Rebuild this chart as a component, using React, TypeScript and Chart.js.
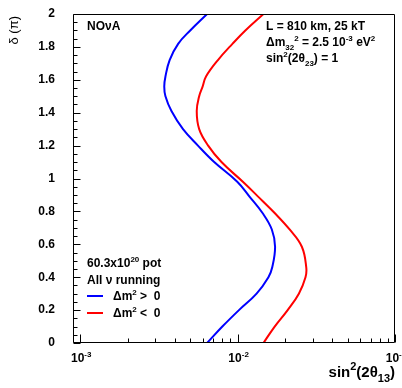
import React, { useEffect, useRef } from "react";
import { Chart, registerables } from "chart.js";

Chart.register(...registerables);

// ---- data ----
const deltaPi = [0, 0.1, 0.2, 0.3, 0.4, 0.46, 0.585, 0.69, 0.79, 0.89, 0.98, 1.1, 1.2, 1.3, 1.41, 1.5, 1.56, 1.62, 1.72, 1.82, 1.9, 2.0];
const sin2Normal = [0.0064, 0.0080, 0.0102, 0.0132, 0.0157, 0.0166, 0.0173, 0.0165, 0.0144, 0.0119, 0.00995, 0.0071, 0.0056, 0.0045, 0.0038, 0.00348, 0.00342, 0.00348, 0.0037, 0.0042, 0.005, 0.0064];
const sin2Inverted = [0.0146, 0.0172, 0.0208, 0.0245, 0.0270, 0.0273, 0.0256, 0.0214, 0.0172, 0.0135, 0.0108, 0.0079, 0.0065, 0.0057, 0.0055, 0.0057, 0.006, 0.0063, 0.0075, 0.0093, 0.0112, 0.0146];

const yTickValues = [0, 0.2, 0.4, 0.6, 0.8, 1, 1.2, 1.4, 1.6, 1.8, 2];
const yTickLabels = ["0", "0.2", "0.4", "0.6", "0.8", "1", "1.2", "1.4", "1.6", "1.8", "2"];
const xTickValues = [0.001, 0.01, 0.1];
const xTickExponents = ["-3", "-2", "-1"];

const X_MIN = 0.0009;
const X_MAX = 0.1;

const FONT = "'Liberation Sans', Arial, Helvetica, sans-serif";

type Seg = { t: string; k?: "sup" | "sub" };

function drawRich(
  ctx: CanvasRenderingContext2D,
  segs: Seg[],
  x: number,
  y: number,
  size: number,
  align: "left" | "center" | "right",
  weight = "bold"
) {
  const small = Math.round(size * 0.7);
  let total = 0;
  const widths: number[] = [];
  for (const s of segs) {
    ctx.font = `${weight} ${s.k ? small : size}px ${FONT}`;
    const w = ctx.measureText(s.t).width;
    widths.push(w);
    total += w;
  }
  let cx = align === "left" ? x : align === "center" ? x - total / 2 : x - total;
  ctx.textAlign = "left";
  ctx.textBaseline = "alphabetic";
  segs.forEach((s, i) => {
    ctx.font = `${weight} ${s.k ? small : size}px ${FONT}`;
    const dy = s.k === "sup" ? -size * 0.45 : s.k === "sub" ? size * 0.3 : 0;
    ctx.fillText(s.t, cx, y + dy);
    cx += widths[i];
  });
}

const rootFramePlugin = {
  id: "rootFrame",
  afterDraw(chart: any) {
    const ctx: CanvasRenderingContext2D = chart.ctx;
    const xs = chart.scales.x;
    const ys = chart.scales.y;
    const a = chart.chartArea;
    const L = Math.round(a.left) + 0.5;
    const R = Math.round(a.right) - 0.5;
    const T = Math.round(a.top) + 0.5;
    const B = Math.round(a.bottom) - 0.5;
    ctx.save();
    ctx.fillStyle = "#000";
    ctx.strokeStyle = "#000";
    ctx.lineWidth = 1;

    // frame
    ctx.beginPath();
    ctx.rect(L, T, R - L, B - T);
    ctx.stroke();

    // y ticks
    ctx.beginPath();
    for (let i = 0; i <= 40; i++) {
      const v = i * 0.05;
      const py = Math.round(ys.getPixelForValue(v)) + 0.5;
      const major = i % 4 === 0;
      ctx.moveTo(L, py);
      ctx.lineTo(L + (major ? 7 : 4), py);
    }
    // x ticks
    for (let d = -4; d <= -1; d++) {
      for (let m = 1; m <= 9; m++) {
        const v = m * Math.pow(10, d);
        if (v < X_MIN * 0.999 || v > X_MAX * 1.001) continue;
        const px = Math.round(xs.getPixelForValue(v)) + 0.5;
        ctx.moveTo(px, B);
        ctx.lineTo(px, B - (m === 1 ? 8 : 4));
      }
    }
    ctx.stroke();

    // y tick labels
    ctx.font = `bold 12px ${FONT}`;
    ctx.textAlign = "right";
    ctx.textBaseline = "middle";
    yTickValues.forEach((v, i) => {
      ctx.fillText(yTickLabels[i], 55, ys.getPixelForValue(v));
    });

    // x tick labels
    xTickValues.forEach((v, i) => {
      const px = xs.getPixelForValue(v);
      drawRich(ctx, [{ t: "10" }, { t: xTickExponents[i], k: "sup" }], px + 1, 362, 12, "center");
    });

    // axis titles
    drawRich(
      ctx,
      [{ t: "sin" }, { t: "2", k: "sup" }, { t: "(2θ" }, { t: "13", k: "sub" }, { t: ")" }],
      395,
      377,
      15,
      "right"
    );
    ctx.save();
    ctx.translate(18, 16);
    ctx.rotate(-Math.PI / 2);
    ctx.font = `13px ${FONT}`;
    ctx.textAlign = "right";
    ctx.textBaseline = "alphabetic";
    ctx.fillText("δ (π)", 0, 0);
    ctx.restore();

    // annotations
    drawRich(ctx, [{ t: "NOνA" }], 87, 30, 12, "left");
    drawRich(ctx, [{ t: "L = 810 km, 25 kT" }], 266, 30, 12, "left");
    drawRich(
      ctx,
      [{ t: "Δm" }, { t: "32", k: "sub" }, { t: "2", k: "sup" }, { t: " = 2.5 10" }, { t: "-3", k: "sup" }, { t: " eV" }, { t: "2", k: "sup" }],
      266,
      46,
      12,
      "left"
    );
    drawRich(
      ctx,
      [{ t: "sin" }, { t: "2", k: "sup" }, { t: "(2θ" }, { t: "23", k: "sub" }, { t: ") = 1" }],
      266,
      62,
      12,
      "left"
    );

    drawRich(ctx, [{ t: "60.3x10" }, { t: "20", k: "sup" }, { t: " pot" }], 87, 267, 12, "left");
    drawRich(ctx, [{ t: "All ν running" }], 87, 284, 12, "left");

    const legend = [
      { color: "#0000ff", segs: [{ t: "Δm" }, { t: "2", k: "sup" as const }, { t: " >  0" }], y: 296 },
      { color: "#ff0000", segs: [{ t: "Δm" }, { t: "2", k: "sup" as const }, { t: " <  0" }], y: 313 },
    ];
    legend.forEach((l) => {
      ctx.strokeStyle = l.color;
      ctx.lineWidth = 2;
      ctx.beginPath();
      ctx.moveTo(87, l.y);
      ctx.lineTo(103, l.y);
      ctx.stroke();
      ctx.fillStyle = "#000";
      drawRich(ctx, l.segs, 113, l.y + 4, 12, "left");
    });

    ctx.restore();
  },
};

export default function App() {
  const ref = useRef<HTMLCanvasElement | null>(null);

  useEffect(() => {
    document.body.style.margin = "0";
    const canvas = ref.current;
    if (!canvas) return;
    const chart = new Chart(canvas, {
      type: "scatter",
      data: {
        datasets: [
          {
            label: "Δm² > 0",
            data: deltaPi.map((d, i) => ({ x: sin2Normal[i], y: d })),
            borderColor: "#0000ff",
            backgroundColor: "#0000ff",
            showLine: true,
            pointRadius: 0,
            borderWidth: 2,
            tension: 0.4,
          },
          {
            label: "Δm² < 0",
            data: deltaPi.map((d, i) => ({ x: sin2Inverted[i], y: d })),
            borderColor: "#ff0000",
            backgroundColor: "#ff0000",
            showLine: true,
            pointRadius: 0,
            borderWidth: 2,
            tension: 0.4,
          },
        ],
      },
      options: {
        animation: false,
        responsive: false,
        devicePixelRatio: 1,
        layout: { padding: { left: 73, right: 7, top: 14, bottom: 45 } },
        plugins: { legend: { display: false }, tooltip: { enabled: false } },
        scales: {
          x: { type: "logarithmic", min: X_MIN, max: X_MAX, display: false },
          y: { type: "linear", min: 0, max: 2, display: false },
        },
      },
      plugins: [rootFramePlugin],
    });
    return () => chart.destroy();
  }, []);

  return (
    <div style={{ width: 402, height: 388, background: "#fff" }}>
      <canvas ref={ref} width={402} height={388} style={{ width: 402, height: 388, display: "block" }} />
    </div>
  );
}
